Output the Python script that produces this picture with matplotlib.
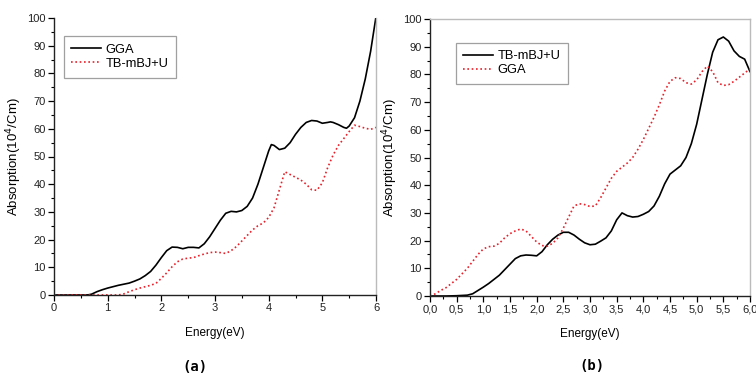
import matplotlib
matplotlib.use("Agg")
import matplotlib.pyplot as plt
from matplotlib.ticker import MultipleLocator, FuncFormatter

plt.rcParams['font.family'] = ['Liberation Sans', 'DejaVu Sans']

# Panel (a): energy grid (eV) and absorption (10^4/cm)
energy_a = [0.0, 0.2, 0.4, 0.6, 0.65, 0.7, 0.8, 0.9, 1.0, 1.1, 1.2, 1.3, 1.4, 1.5, 1.6, 1.7,
            1.8, 1.9, 2.0, 2.1, 2.2, 2.3, 2.4, 2.5, 2.6, 2.7, 2.8, 2.9, 3.0, 3.1, 3.2,
            3.3, 3.4, 3.5, 3.6, 3.7, 3.8, 3.9, 4.0, 4.05, 4.1, 4.2, 4.3, 4.4, 4.5, 4.6,
            4.7, 4.8, 4.9, 5.0, 5.1, 5.15, 5.2, 5.3, 5.4, 5.45, 5.5, 5.6, 5.7, 5.8,
            5.9, 6.0]
gga_a = [0.0, 0.0, 0.0, 0.0, 0.1, 0.3, 1.2, 1.9, 2.5, 3.0, 3.5, 3.9, 4.3, 5.0, 5.8, 7.0,
         8.5, 10.8, 13.5, 16.0, 17.3, 17.2, 16.7, 17.2, 17.2, 17.0, 18.5, 21.0, 24.0, 27.0, 29.5,
         30.2, 30.0, 30.5, 32.0, 35.0, 40.0, 46.0, 52.0, 54.3, 54.0, 52.5, 53.0, 55.0, 58.0, 60.5,
         62.3, 63.0, 62.8, 62.0, 62.3, 62.5, 62.3, 61.5, 60.5, 60.2, 61.0, 64.0, 70.0, 78.0,
         88.0, 100.5]

energy_a2 = [0.0, 0.4, 0.8, 1.2, 1.3, 1.4, 1.5, 1.6, 1.7, 1.8, 1.9, 2.0, 2.1, 2.2, 2.3, 2.4,
             2.5, 2.6, 2.7, 2.8, 2.9, 3.0, 3.1, 3.2, 3.3, 3.4, 3.5, 3.6, 3.7, 3.8, 3.9,
             4.0, 4.1, 4.2, 4.3, 4.4, 4.5, 4.6, 4.7, 4.8, 4.9, 5.0, 5.1, 5.2, 5.3, 5.4,
             5.5, 5.6, 5.7, 5.8, 5.9, 6.0]
mbj_a = [0.0, 0.0, 0.0, 0.0, 0.4, 1.2, 1.9, 2.5, 3.0, 3.5, 4.2, 6.0, 8.0, 10.2, 12.0, 13.0,
         13.3, 13.5, 14.2, 14.8, 15.3, 15.5, 15.3, 15.0, 16.0, 17.5, 19.5, 21.5, 23.5, 25.0, 26.0,
         28.0, 31.5, 38.0, 44.5, 43.5, 42.5, 41.5, 40.0, 38.0, 37.8, 40.5, 46.0, 50.5, 54.0, 56.5,
         59.0, 61.3, 60.8, 60.2, 59.8, 60.5]

# Panel (b)
energy_b = [0.0, 0.3, 0.5, 0.7, 0.8, 0.9, 1.0, 1.1, 1.2, 1.3, 1.4, 1.5, 1.6, 1.7, 1.8, 1.9,
            2.0, 2.1, 2.2, 2.3, 2.4, 2.5, 2.6, 2.7, 2.8, 2.9, 3.0, 3.1, 3.2, 3.3, 3.4,
            3.5, 3.6, 3.7, 3.8, 3.9, 4.0, 4.1, 4.2, 4.3, 4.4, 4.5, 4.6, 4.7, 4.8, 4.9,
            5.0, 5.1, 5.2, 5.3, 5.4, 5.5, 5.6, 5.7, 5.8, 5.9, 6.0]
mbj_b = [0.0, 0.0, 0.1, 0.3, 0.8, 2.0, 3.2, 4.5, 6.0, 7.5, 9.5, 11.5, 13.5, 14.5, 14.8, 14.7,
         14.5, 16.0, 18.5, 20.5, 22.0, 23.0, 23.0, 22.0, 20.5, 19.2, 18.5, 18.7, 19.8, 21.0, 23.5,
         27.5, 30.0, 29.0, 28.5, 28.7, 29.5, 30.5, 32.5, 36.0, 40.5, 44.0, 45.5, 47.0, 50.0, 55.0,
         62.0, 71.0, 80.0, 88.0, 92.5, 93.5, 92.0, 88.5, 86.5, 85.5, 81.0]

energy_b2 = [0.0, 0.1, 0.2, 0.3, 0.4, 0.5, 0.6, 0.7, 0.8, 0.9, 1.0, 1.1, 1.2, 1.3, 1.4, 1.5,
             1.6, 1.7, 1.8, 1.9, 2.0, 2.1, 2.2, 2.3, 2.4, 2.5, 2.6, 2.7, 2.8, 2.9, 3.0,
             3.1, 3.2, 3.3, 3.4, 3.5, 3.6, 3.7, 3.8, 3.9, 4.0, 4.1, 4.2, 4.3, 4.4, 4.5,
             4.6, 4.7, 4.8, 4.9, 5.0, 5.1, 5.2, 5.3, 5.4, 5.5, 5.6, 5.7, 5.8, 5.9, 6.0]
gga_b = [0.0, 0.8, 2.0, 3.0, 4.5, 6.0, 8.0, 10.0, 12.5, 15.0, 17.0, 17.8, 18.0, 19.0, 21.0, 22.5,
         23.5, 24.2, 23.5, 21.5, 19.5, 18.2, 18.0, 19.0, 21.0, 24.5, 28.5, 32.5, 33.3, 33.0, 32.3,
         32.5, 35.5, 39.0, 42.5, 45.0, 46.5, 48.0, 50.0, 53.0, 56.5, 60.5, 64.5, 69.0, 74.0, 77.5,
         78.8, 78.5, 77.0, 76.5, 78.0, 81.0, 83.0, 81.0, 77.0, 76.0, 76.3, 77.5, 79.0, 80.5, 82.0]

RED = '#e8202a'
FS_TICK = 8

fig = plt.figure(figsize=(7.56, 3.74), dpi=100)
ax_a = fig.add_axes([54 / 756, 79 / 374, 322 / 756, 277 / 374])
ax_b = fig.add_axes([430 / 756, 78 / 374, 320 / 756, 277 / 374])


def style_axes(ax, major_x, minor_x, fmt):
    ax.set_xlim(0, 6)
    ax.set_ylim(0, 100)
    ax.xaxis.set_major_locator(MultipleLocator(major_x))
    ax.xaxis.set_minor_locator(MultipleLocator(minor_x))
    ax.yaxis.set_major_locator(MultipleLocator(10))
    ax.yaxis.set_minor_locator(MultipleLocator(5))
    ax.xaxis.set_major_formatter(FuncFormatter(fmt))
    ax.tick_params(which='major', direction='out', length=4, width=0.9,
                   labelsize=FS_TICK, colors='black', pad=2)
    ax.tick_params(which='minor', direction='out', length=2.5, width=0.8)
    ax.tick_params(axis='both', labelcolor='#222222')
    for s in ('left', 'bottom'):
        ax.spines[s].set_linewidth(1.0)
        ax.spines[s].set_color('#222222')
    ax.set_xlabel('Energy(eV)', fontsize=8.5, labelpad=10)
    ax.set_ylabel('Absorption(10$^4$/Cm)', fontsize=9.5, labelpad=2)


style_axes(ax_a, 1, 0.5, lambda v, p: f'{v:.0f}')
style_axes(ax_b, 0.5, 0.25, lambda v, p: f'{v:.1f}'.replace('.', ','))

ax_a.spines['top'].set_visible(False)
ax_a.spines['right'].set_color('#bbbbbb')
ax_a.spines['right'].set_linewidth(1.0)
for s in ('top', 'right'):
    ax_b.spines[s].set_color('#bbbbbb')
    ax_b.spines[s].set_linewidth(1.0)

ax_a.plot(energy_a, gga_a, color='black', lw=1.2, label='GGA')
ax_a.plot(energy_a2, mbj_a, color=RED, lw=1.2, ls=(0, (1, 1.6)), label='TB-mBJ+U')

ax_b.plot(energy_b, mbj_b, color='black', lw=1.2, label='TB-mBJ+U')
ax_b.plot(energy_b2, gga_b, color=RED, lw=1.2, ls=(0, (1, 1.6)), label='GGA')

for ax, loc in ((ax_a, (0.03, 0.785)), (ax_b, (0.08, 0.765))):
    leg = ax.legend(loc='lower left', bbox_to_anchor=loc, fontsize=9.3, frameon=True,
                    fancybox=False, edgecolor='#888888', handlelength=2.3,
                    handletextpad=0.35, borderpad=0.6, labelspacing=0.15,
                    borderaxespad=0)
    leg.get_frame().set_linewidth(0.9)

fig.text(195 / 756, 1 - 367 / 374, '(a)', fontsize=10, fontweight='bold',
         family='DejaVu Sans Mono', ha='center', va='center')
fig.text(592 / 756, 1 - 366 / 374, '(b)', fontsize=10, fontweight='bold',
         family='DejaVu Sans Mono', ha='center', va='center')

fig.savefig('out.png', dpi=100)
